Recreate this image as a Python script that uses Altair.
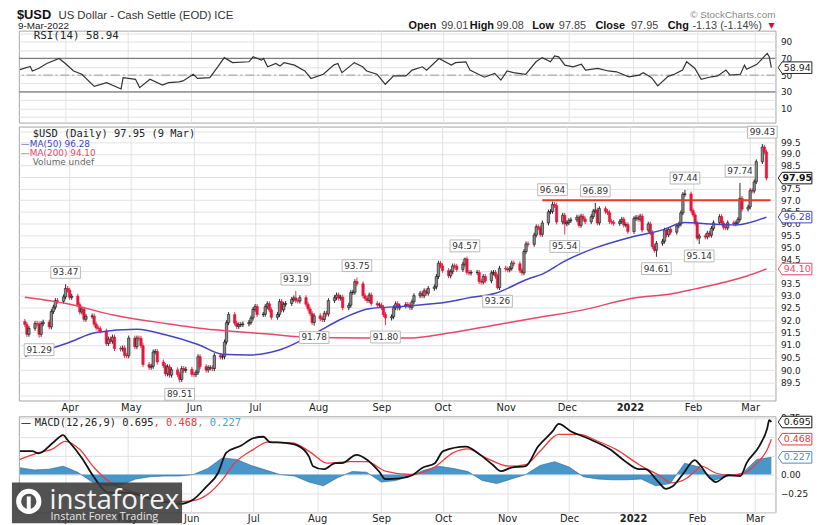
import altair as alt
import pandas as pd

# ---------------- data ----------------
first_open = 91.95
mar21 = [91.83, 91.43, 91.67, 91.87, 91.85, 91.43, 91.86, 91.92, 91.73, 92.35, 92.53, 92.80, 92.77, 92.95, 93.30, 93.23]
apr21 = [92.93, 92.98, 92.63, 92.33, 92.45, 92.04, 92.16, 92.17, 91.84, 91.69, 91.66, 91.56, 91.06, 91.24, 91.15, 91.32,
         90.86, 90.84, 90.88, 90.58, 90.57, 91.28]
may21 = [90.93, 91.28, 91.27, 90.97, 90.22, 90.11, 90.15, 90.72, 90.74, 90.32, 90.18, 89.85, 90.13, 89.80, 90.01, 89.82,
         89.63, 90.06, 89.99, 90.03, 89.83]
jun21 = [89.82, 89.91, 90.53, 90.14, 90.00, 90.09, 90.09, 90.06, 90.58, 90.52, 90.53, 91.12, 91.90, 92.23, 91.88, 91.75,
         91.82, 91.82, 91.85, 91.91, 92.09, 92.44]
jul21 = [92.56, 92.23, 92.24, 92.55, 92.67, 92.42, 92.12, 92.23, 92.76, 92.42, 92.65, 92.68, 92.85, 92.91, 92.79, 92.78,
         92.92, 92.65, 92.46, 92.27, 91.91, 92.18]
aug21 = [92.06, 92.03, 92.28, 92.25, 92.80, 92.92, 93.03, 92.90, 92.94, 92.51, 92.61, 93.13, 93.14, 93.58, 93.49, 93.00,
         92.88, 92.80, 93.03, 92.68, 92.62, 92.62]
sep21 = [92.52, 92.23, 92.09, 92.14, 92.51, 92.67, 92.50, 92.58, 92.64, 92.62, 92.52, 92.75, 93.00, 93.10, 93.00, 93.20,
         93.10, 93.30, 93.36, 93.79, 94.34, 94.23]
oct21 = [94.04, 93.82, 93.99, 94.23, 94.22, 94.08, 94.30, 94.52, 93.96, 93.93, 93.96, 93.96, 93.58, 93.56, 93.79, 93.61,
         93.94, 93.96, 93.80, 93.33, 94.13]
nov21 = [94.10, 94.06, 94.13, 94.35, 94.32, 94.04, 93.94, 94.83, 95.15, 95.13, 95.52, 95.87, 95.82, 95.55, 96.03, 96.50,
         96.52, 96.82, 96.77, 96.07, 96.36, 95.99]
dec21 = [96.04, 96.13, 96.16, 96.28, 95.93, 96.32, 96.20, 96.08, 96.30, 96.53, 96.58, 96.03, 96.64, 96.52, 96.47, 96.09,
         96.06, 96.01, 96.09, 96.19, 95.94, 95.96, 95.67]
jan22 = [96.22, 96.27, 96.18, 96.32, 95.73, 95.99, 95.62, 95.04, 94.88, 95.17, 95.26, 95.73, 95.53, 95.76, 95.64, 95.91,
         95.98, 96.46, 97.25, 97.27, 96.55]
feb22 = [96.37, 96.02, 95.39, 95.48, 95.44, 95.60, 95.51, 95.80, 96.04, 96.30, 96.03, 95.84, 95.82, 96.04, 95.99, 96.03,
         96.18, 97.08, 96.62, 96.71]
mar22 = [97.41, 97.39, 97.79, 98.66, 99.30, 99.08, 97.95]

# labelled extremes (trading-day number, value, side)
label_idx = [14, 5, 54, 95, 102, 117, 127, 154, 166, 185, 189, 200, 222, 232, 237, 251, 258]
label_val = [93.47, 91.29, 89.51, 93.19, 91.78, 93.75, 91.80, 94.57, 93.26, 96.94, 95.54, 96.89, 94.61, 97.44, 95.14,
             97.74, 99.43]
label_side = ["high", "low", "low", "high", "low", "high", "low", "high", "low", "high", "low", "high", "low", "high",
              "low", "high", "high"]

# moving averages (trading-day number, value)
ma50_idx = [0, 15, 25, 39, 49, 61, 69, 78, 90, 101, 112, 121, 134, 148, 155, 165, 177, 182, 189, 200, 212, 223, 232,
            240, 249, 260]
ma50_val = [90.55, 91.08, 91.50, 91.63, 91.41, 91.02, 90.63, 90.60, 90.83, 91.41, 92.07, 92.47, 92.58, 92.75, 92.90,
            93.10, 93.69, 93.89, 94.43, 94.98, 95.40, 95.74, 96.05, 95.99, 95.95, 96.28]
ma200_idx = [0, 15, 32, 49, 67, 84, 101, 124, 134, 148, 165, 182, 195, 213, 227, 235, 252, 260]
ma200_val = [92.94, 92.67, 92.20, 91.87, 91.61, 91.45, 91.30, 91.28, 91.28, 91.48, 91.81, 92.14, 92.40, 92.91, 93.07,
             93.28, 93.75, 94.10]

resist_level = [97.0]
resist_start = ["2021-11-19"]
resist_end = ["2022-03-11"]

# RSI(14)
rsi_idx = [0, 3, 4, 7, 9, 13, 16, 18, 22, 26, 30, 35, 36, 40, 42, 45, 49, 52, 55, 57, 60, 62, 66, 68, 71, 73, 79, 81,
           83, 84, 86, 88, 90, 92, 95, 98, 101, 105, 108, 110, 112, 116, 118, 120, 123, 127, 129, 133, 136, 139, 141,
           145, 149, 151, 154, 156, 161, 164, 167, 168, 171, 175, 178, 181, 183, 185, 187, 188, 192, 194, 196, 200,
           203, 207, 211, 214, 216, 218, 221, 224, 227, 229, 231, 233, 236, 239, 242, 244, 246, 249, 251, 252, 255,
           258, 259, 260]
rsi_val = [56.6, 60.5, 55, 58, 64, 70, 64, 55, 51, 36.5, 41, 33.4, 47, 45, 35, 45, 38, 41, 42, 43, 51, 46, 47, 60.5,
           71, 65, 66, 72, 68, 70, 60, 64, 61, 65, 62, 55, 46, 51, 62, 64, 53, 65, 60, 55, 51, 39, 49, 49, 56, 60, 56,
           70, 62, 65, 66, 56, 47.5, 52, 44, 55, 53, 51, 66, 71, 66, 73, 72, 62, 60, 63, 56, 58, 55, 54, 48, 50, 53,
           47, 37, 48.5, 51, 56, 66, 58, 45, 48, 49, 56, 50, 51, 62, 57, 63, 76, 72, 58.94]
rsi_bands = [70, 30]
rsi_mid = [50]

# MACD(12,26,9)
macd_idx = [0, 4, 7, 12, 15, 17, 22, 26, 31, 37, 40, 46, 52, 55, 60, 64, 68, 72, 77, 81, 84, 87, 92, 96, 100, 102,
            105, 109, 112, 117, 120, 124, 127, 132, 136, 139, 143, 147, 154, 159, 163, 167, 170, 175, 179, 184, 187,
            191, 197, 204, 209, 214, 217, 221, 223, 226, 229, 233, 235, 238, 241, 245, 249, 252, 256, 258, 259, 260]
macd_val = [0.31, 0.31, 0.28, 0.42, 0.52, 0.46, 0.22, -0.04, -0.24, -0.24, -0.26, -0.33, -0.37, -0.39, -0.33, -0.17,
            0.02, 0.29, 0.38, 0.48, 0.50, 0.43, 0.42, 0.39, 0.24, 0.11, 0.07, 0.15, 0.15, 0.26, 0.20, 0.04, -0.06,
            -0.05, -0.01, 0.09, 0.15, 0.31, 0.37, 0.26, 0.13, 0.045, 0.09, 0.11, 0.37, 0.57, 0.67, 0.57, 0.48, 0.33,
            0.18, 0.07, 0.07, -0.09, -0.19, -0.16, 0.0, 0.19, 0.14, -0.04, -0.10, -0.01, -0.02, 0.15, 0.37, 0.61,
            0.72, 0.695]
sig_idx = [0, 7, 12, 16, 21, 26, 31, 37, 46, 54, 59, 66, 70, 74, 81, 86, 94, 101, 107, 114, 120, 127, 135, 143, 150,
           155, 161, 169, 175, 180, 187, 193, 200, 207, 214, 221, 226, 231, 234, 236, 241, 246, 250, 255, 258, 260]
sig_val = [0.20, 0.29, 0.34, 0.44, 0.33, 0.09, -0.09, -0.20, -0.28, -0.36, -0.35, -0.24, -0.07, 0.15, 0.33, 0.43,
           0.42, 0.29, 0.15, 0.17, 0.17, 0.045, 0.0, 0.10, 0.29, 0.34, 0.23, 0.11, 0.13, 0.31, 0.53, 0.53, 0.44, 0.33,
           0.13, 0.0, -0.11, -0.05, 0.07, 0.11, 0.02, -0.01, 0.01, 0.15, 0.33, 0.468]
hist_idx = list(range(0, 261, 5))
hist_val = [0.09, 0.06, 0.07, 0.11, 0.03, -0.10, -0.15, -0.14, -0.06, -0.03, -0.02, -0.02, 0.0, 0.08, 0.22, 0.20,
            0.12, 0.06, 0.0, -0.02, -0.10, -0.15, -0.04, 0.04, 0.03, -0.10, -0.08, -0.02, 0.06, 0.11, 0.08, 0.04,
            -0.08, -0.12, -0.06, 0.0, 0.12, 0.17, 0.10, -0.03, -0.06, -0.07, -0.07, -0.06, -0.15, -0.12, 0.15, 0.10,
            -0.08, -0.02, 0.02, 0.20, 0.227]

price_ticks = [89.0, 89.5, 90.0, 90.5, 91.0, 91.5, 92.0, 92.5, 93.0, 93.5, 94.0, 94.5, 95.0, 95.5, 96.0, 96.5, 97.0,
               97.5, 98.0, 98.5, 99.0, 99.5, 100.0]
rsi_ticks = [0, 10, 20, 30, 40, 50, 60, 70, 80, 90, 100]
macd_ticks = [-0.5, -0.25, 0.0, 0.25, 0.5, 0.75]

# ---------------- build tables ----------------
closes = mar21 + apr21 + may21 + jun21 + jul21 + aug21 + sep21 + oct21 + nov21 + dec21 + jan22 + feb22 + mar22
dates = pd.bdate_range("2021-03-10", "2022-03-09")
if len(dates) != len(closes):
    raise ValueError(f"{len(dates)} dates vs {len(closes)} closes")

WICK = 0.1
opens = [first_open] + closes[:-1]
highs = [max(o, c) + WICK for o, c in zip(opens, closes)]
lows = [min(o, c) - WICK for o, c in zip(opens, closes)]
for i, v, s in zip(label_idx, label_val, label_side):
    if s == "high":
        highs[i] = v
    else:
        lows[i] = v
price = pd.DataFrame({"date": dates, "open": opens, "high": highs, "low": lows, "close": closes,
                      "dir": ["up" if c >= o else "down" for o, c in zip(opens, closes)]})


def series(idx, val):
    return pd.DataFrame({"date": [dates[i] for i in idx], "v": val})


ma50 = series(ma50_idx, ma50_val)
ma200 = series(ma200_idx, ma200_val)
rsi = series(rsi_idx, rsi_val)
macd = series(macd_idx, macd_val)
sig = series(sig_idx, sig_val)
hist = series(hist_idx, hist_val)
ann = pd.DataFrame({"date": [dates[i] for i in label_idx], "v": label_val,
                    "t": [f"{v:.2f}" for v in label_val], "side": label_side})
resist = pd.DataFrame({"s": pd.to_datetime(resist_start), "e": pd.to_datetime(resist_end), "v": resist_level})

# ---------------- styling ----------------
W = 765
SANS = "DejaVu Sans"
MONO = "DejaVu Sans Mono"
HEAD = "Liberation Sans"
GRID = "#e2e2e2"
UP, DOWN = "#111111", "#e3173c"
BLUE, PINK = "#4343c4", "#e8466a"

xscale = alt.Scale(domain=[alt.DateTime(year=2021, month=3, date=9, hours=12),
                           alt.DateTime(year=2022, month=3, date=11)])
LBL = "month(datum.value) == 0 ? timeFormat(datum.value, '%Y') : timeFormat(datum.value, '%b')"
FW = {"condition": {"test": "month(datum.value) == 0", "value": "bold"}, "value": "normal"}


def xax(show, pad=3):
    return alt.Axis(tickCount="month", grid=True, gridColor=GRID, domain=False, ticks=False, labels=show,
                    labelExpr=LBL, labelFontWeight=FW, labelFont=SANS, labelFontSize=10, labelColor="#222",
                    labelPadding=pad, title=None)


def X(field, show, pad=3):
    return alt.X(field, type="temporal", scale=xscale, axis=xax(show, pad))


one = pd.DataFrame({"k": [0]})


def label(text, x, y, size=10, font=SANS, color="#222", weight="normal", align="left", baseline="middle"):
    return alt.Chart(one).mark_text(font=font, fontSize=size, color=color, fontWeight=weight, align=align,
                                    baseline=baseline).encode(x=alt.value(x), y=alt.value(y), text=alt.value(text))


BOX = "M-1.15,0L-0.9,-0.37L1,-0.37L1,0.37L-0.9,0.37Z"
ABOX = "M-1,-0.4L1,-0.4L1,0.4L-1,0.4Z"


def value_box(v, text, yenc_fn, color, weight="normal"):
    d = pd.DataFrame({"v": [v], "t": [text]})
    b = alt.Chart(d).mark_point(shape=BOX, size=1000, filled=True, fill="white", stroke=color, strokeWidth=1,
                                opacity=1).encode(x=alt.value(W + 21), y=yenc_fn("v"))
    t = alt.Chart(d).mark_text(font=SANS, fontSize=9.5, color=color, fontWeight=weight).encode(
        x=alt.value(W + 22), y=yenc_fn("v"), text="t:N")
    return [b, t]


# ---------------- RSI panel ----------------
rsi_scale = alt.Scale(domain=[-7, 103.4], nice=False, zero=False)
rsi_yax = alt.Axis(orient="right", values=rsi_ticks, labelExpr="datum.value % 20 == 10 ? datum.label : ''",
                   grid=True, gridColor=GRID, domain=False, ticks=False, labelFont=SANS, labelFontSize=9,
                   labelColor="#222", labelPadding=5, title=None, labelOverlap=False)


def RY(f):
    return alt.Y(f, type="quantitative", scale=rsi_scale, axis=rsi_yax)


rsi_layers = [
    alt.Chart(pd.DataFrame({"v": rsi_bands})).mark_rule(color="#7d7d7d", strokeWidth=1.2).encode(y=RY("v")),
    alt.Chart(pd.DataFrame({"v": rsi_mid})).mark_rule(color="#9a9a9a", strokeWidth=1, strokeDash=[9, 3, 2, 3]).encode(
        y=RY("v")),
    alt.Chart(rsi).mark_line(color="#333333", strokeWidth=1.2).encode(x=X("date", False), y=RY("v")),
    label("RSI(14) 58.94", 15, 5, size=11, font=MONO, color="#222"),
    label("$USD", -2, -12, size=13, font=HEAD, weight="bold", color="#111", baseline="alphabetic"),
    label("US Dollar - Cash Settle (EOD) ICE", 40, -12, size=11.5, font=HEAD, color="#333", baseline="alphabetic"),
    label("9-Mar-2022", -1, -2, size=10, font=HEAD, color="#222", baseline="alphabetic"),
    label("© StockCharts.com", 765, -13, size=10, font=HEAD, color="#888", align="right", baseline="alphabetic"),
]
for txt, xx, bold in [("Open", 394, True), ("99.01", 427, False), ("High", 456, True), ("99.08", 483, False),
                      ("Low", 519, True), ("97.85", 546, False), ("Close", 583, True), ("97.95", 619, False),
                      ("Chg", 656, True), ("-1.13 (-1.14%)", 681, False)]:
    rsi_layers.append(label(txt, xx, -2, size=11, font=HEAD, color="#111" if bold else "#444",
                            weight="bold" if bold else "normal", baseline="alphabetic"))
rsi_layers.append(label("▼", 758, -3, size=8, font=SANS, color="#d0103a", baseline="alphabetic"))
rsi_layers += value_box(58.94, "58.94", RY, "#222")
rsi_panel = alt.layer(*rsi_layers).properties(width=W, height=93)

# ---------------- price panel ----------------
pscale = alt.Scale(type="log", domain=[88.8, 100.2], nice=False, zero=False)
p_yax = alt.Axis(orient="right", values=price_ticks,
                 labelExpr="datum.value < 89.4 || datum.value > 99.6 ? '' : format(datum.value, '.1f')",
                 grid=True, gridColor=GRID, domain=False, ticks=False, labelFont=SANS, labelFontSize=9,
                 labelColor="#222", labelPadding=5, title=None, labelOverlap=False)


def PY(f):
    return alt.Y(f, type="quantitative", scale=pscale, axis=p_yax)


dir_scale = alt.Scale(domain=["up", "down"], range=[UP, DOWN])
fill_scale = alt.Scale(domain=["up", "down"], range=["#8c8c8c", DOWN])

PX = lambda f: X(f, True, 2)
price_layers = [
    alt.Chart(price).mark_rule(strokeWidth=0.9).encode(
        x=PX("date"), y=PY("low"), y2="high:Q", color=alt.Color("dir:N", scale=dir_scale, legend=None)),
    alt.Chart(price).mark_bar(size=2.4, strokeWidth=0.6).encode(
        x=PX("date"), y=PY("open"), y2="close:Q",
        fill=alt.Fill("dir:N", scale=fill_scale, legend=None),
        stroke=alt.Stroke("dir:N", scale=dir_scale, legend=None)),
    alt.Chart(ma200).mark_line(color=PINK, strokeWidth=1.5, interpolate="monotone").encode(
        x=PX("date"), y=PY("v")),
    alt.Chart(ma50).mark_line(color=BLUE, strokeWidth=1.5, interpolate="monotone").encode(
        x=PX("date"), y=PY("v")),
    alt.Chart(resist).mark_rule(color="#e8372b", strokeWidth=2).encode(
        x=PX("s"), x2="e:T", y=PY("v")),
]
for side, off in [("high", -12), ("low", 12)]:
    d = ann[ann.side == side]
    price_layers.append(alt.Chart(d).mark_point(shape=ABOX, size=900, filled=True, fill="white", stroke="#b8b8b8",
                                                strokeWidth=1, opacity=1, yOffset=off).encode(
        x=PX("date"), y=PY("v")))
    price_layers.append(alt.Chart(d).mark_text(font=SANS, fontSize=9, color="#333", dy=off).encode(
        x=PX("date"), y=PY("v"), text="t:N"))
price_layers += [
    label("$USD (Daily) 97.95 (9 Mar)", 14, 8, size=10.5, font=MONO, color="#222"),
    label("—MA(50) 96.28", 2, 17.5, size=9, color=BLUE),
    label("—MA(200) 94.10", 2, 26.5, size=9, color=PINK),
    label("Volume undef", 14, 35.5, size=9, color="#666"),
]
price_layers += value_box(94.10, "94.10", PY, PINK)
price_layers += value_box(96.28, "96.28", PY, BLUE)
price_layers += value_box(97.95, "97.95", PY, "#111", weight="bold")
price_panel = alt.layer(*price_layers).properties(width=W, height=277)

# ---------------- MACD panel ----------------
mscale = alt.Scale(domain=[-0.5, 0.77], nice=False, zero=False)
m_yax = alt.Axis(orient="right", values=macd_ticks,
                 labelExpr="datum.value < -0.4 ? '' : format(datum.value, '.2f')",
                 grid=True, gridColor=GRID, domain=False, ticks=False, labelFont=SANS, labelFontSize=9,
                 labelColor="#222", labelPadding=5, title=None, labelOverlap=False)


def MY(f):
    return alt.Y(f, type="quantitative", scale=mscale, axis=m_yax)


MX = lambda f: X(f, True, 1)
cw = 0.602 * 10.5
macd_layers = [
    alt.Chart(hist).mark_area(color="#3f90c6", opacity=0.95, line={"color": "#245f8f", "strokeWidth": 0.6}).encode(
        x=MX("date"), y=MY("v"), y2=alt.datum(0)),
    alt.Chart(sig).mark_line(color="#f0393c", strokeWidth=1.3, interpolate="monotone").encode(
        x=MX("date"), y=MY("v")),
    alt.Chart(macd).mark_line(color="#111111", strokeWidth=1.8, interpolate="monotone").encode(
        x=MX("date"), y=MY("v")),
    label("—", 2, 7, size=10.5, font=SANS, color="#111"),
    label("MACD(12,26,9) 0.695", 16, 7, size=10.5, font=MONO, color="#222"),
    label(", 0.468", 16 + 19 * cw, 7, size=10.5, font=MONO, color="#f0393c"),
    label(", 0.227", 16 + 26 * cw, 7, size=10.5, font=MONO, color="#4aa3d6"),
]
macd_layers += value_box(0.227, "0.227", MY, "#4a8fc4")
macd_layers += value_box(0.468, "0.468", MY, "#e8393c")
macd_layers += value_box(0.695, "0.695", MY, "#111")
macd_layers += [
    alt.Chart(one).mark_rect(color="#3a3a3a", opacity=0.88).encode(
        x=alt.value(-7), x2=alt.value(165), y=alt.value(67), y2=alt.value(108)),
    alt.Chart(one).mark_point(shape="circle", size=420, filled=False, stroke="white", strokeWidth=5,
                              opacity=1).encode(x=alt.value(10), y=alt.value(86)),
    alt.Chart(one).mark_rect(color="white").encode(
        x=alt.value(8), x2=alt.value(12), y=alt.value(81), y2=alt.value(95)),
    label("instaforex", 31, 86, size=28, font="Open Sans", color="#f2f2f2"),
    label("Instant Forex Trading", 32, 102, size=11, font="Open Sans", color="#e6e6e6"),
]
macd_panel = alt.layer(*macd_layers).properties(width=W, height=97)

chart = alt.vconcat(rsi_panel, price_panel, macd_panel, spacing=0).properties(
    padding={"left": 0, "top": -3, "right": 2, "bottom": 0}
).configure_view(stroke="#a5a5a5", strokeWidth=1)

chart.save("out.html", embed_options={"renderer": "svg", "actions": False})
